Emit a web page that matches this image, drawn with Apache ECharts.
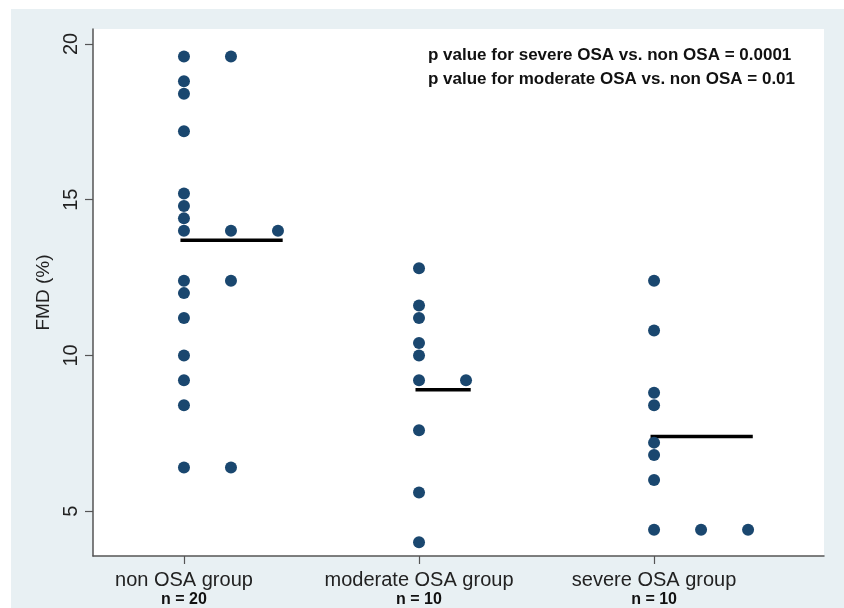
<!DOCTYPE html>
<html>
<head>
<meta charset="utf-8">
<script src="https://cdn.jsdelivr.net/npm/echarts@6/dist/echarts.min.js"></script>
<style>
  html, body { margin: 0; padding: 0; background: #ffffff; }
  #main { width: 844px; height: 608px; }
</style>
</head>
<body>
<div id="main"></div>
<script>
// groups on the x axis
var groupNames = ["non OSA group", "moderate OSA group", "severe OSA group"];
var groupN = [20, 10, 10];
var groupPos = [1, 2, 3];

// FMD (%) values per group
var nonOSA = [19.6, 18.8, 18.4, 17.2, 15.2, 14.8, 14.4, 14.0, 12.4, 12.0, 11.2, 10.0, 9.2, 8.4, 6.4,
	19.6, 14.0, 12.4, 6.4, 14.0];
var moderateOSA = [12.8, 11.6, 11.2, 10.4, 10.0, 9.2, 7.6, 5.6, 4.0, 9.2];
var severeOSA = [12.4, 10.8, 8.8, 8.4, 7.2, 6.8, 6.0, 4.4, 4.4, 4.4];

// horizontal line for each group
var groupLine = [13.7, 8.9, 7.4];

var yTicks = [5, 10, 15, 20];

var pLines = [
	"p value for severe OSA vs. non OSA = 0.0001",
	"p value for moderate OSA vs. non OSA = 0.01"
];

// dot plot: equal values are put side by side
var colStep = 0.2;
function dotPoints(values, pos) {
	var seen = {};
	return values.map(function (v) {
		var k = seen[v] || 0;
		seen[v] = k + 1;
		return [pos + k * colStep, v];
	});
}
function maxCols(values) {
	var seen = {}, m = 1;
	values.forEach(function (v) {
		seen[v] = (seen[v] || 0) + 1;
		if (seen[v] > m) m = seen[v];
	});
	return m;
}

var allGroups = [nonOSA, moderateOSA, severeOSA];
var dots = [];
var series = [];
allGroups.forEach(function (vals, i) {
	dots = dots.concat(dotPoints(vals, groupPos[i]));
	var end = groupPos[i] + (maxCols(vals) - 1) * colStep;
	series.push({
		type: "line",
		data: [[groupPos[i] - 0.015, groupLine[i]], [end + 0.02, groupLine[i]]],
		symbol: "none",
		lineStyle: { color: "#000", width: 3.5 },
		z: 3,
		silent: true
	});
});
series.unshift({
	type: "scatter",
	data: dots,
	symbol: "circle",
	symbolSize: 12,
	itemStyle: { color: "#1a476f", opacity: 1 },
	z: 4
});

var myChart = echarts.init(document.getElementById("main"));
var option = {
	animation: false,
	backgroundColor: "#ffffff",
	graphic: [
		{
			type: "rect",
			shape: { x: 11, y: 9, width: 833, height: 599 },
			style: { fill: "#e8f0f3" },
			z: -10,
			silent: true
		},
		{
			type: "text",
			left: 428,
			top: 43,
			style: {
				text: pLines.join("\n"),
				font: "bold 17px 'Liberation Sans', Arial, sans-serif",
				lineHeight: 24,
				fill: "#111"
			},
			z: 10
		}
	],
	grid: {
		left: 93,
		right: 20,
		top: 29,
		bottom: 51,
		show: true,
		backgroundColor: "#ffffff",
		borderWidth: 0
	},
	xAxis: {
		type: "value",
		min: 0.613,
		max: 3.723,
		splitLine: { show: false },
		axisLine: { show: true, lineStyle: { color: "#555", width: 1.5 } },
		axisTick: {
			show: true,
			customValues: groupPos,
			length: 8,
			lineStyle: { color: "#555", width: 1.2 }
		},
		axisLabel: {
			customValues: groupPos,
			margin: 13,
			formatter: function (v) {
				var i = groupPos.indexOf(Math.round(v));
				return "{g|" + groupNames[i] + "}\n{n|n = " + groupN[i] + "}";
			},
			rich: {
				g: { fontFamily: "Liberation Sans", fontSize: 20, color: "#222", lineHeight: 22 },
				n: { fontFamily: "Liberation Sans", fontWeight: "bold", fontSize: 16, color: "#111", lineHeight: 18 }
			}
		}
	},
	yAxis: {
		type: "value",
		min: 3.56,
		max: 20.48,
		name: "FMD (%)",
		nameLocation: "middle",
		nameRotate: 90,
		nameGap: 35,
		nameTextStyle: { fontFamily: "Liberation Sans", fontSize: 19, color: "#222" },
		splitLine: { show: false },
		axisLine: { show: true, lineStyle: { color: "#555", width: 1.5 } },
		axisTick: {
			show: true,
			customValues: yTicks,
			length: 8,
			lineStyle: { color: "#555", width: 1.2 }
		},
		axisLabel: {
			customValues: yTicks,
			rotate: 90,
			margin: 12,
			fontFamily: "Liberation Sans",
			fontSize: 20,
			color: "#222"
		}
	},
	series: series
};
myChart.setOption(option);
</script>
</body>
</html>
